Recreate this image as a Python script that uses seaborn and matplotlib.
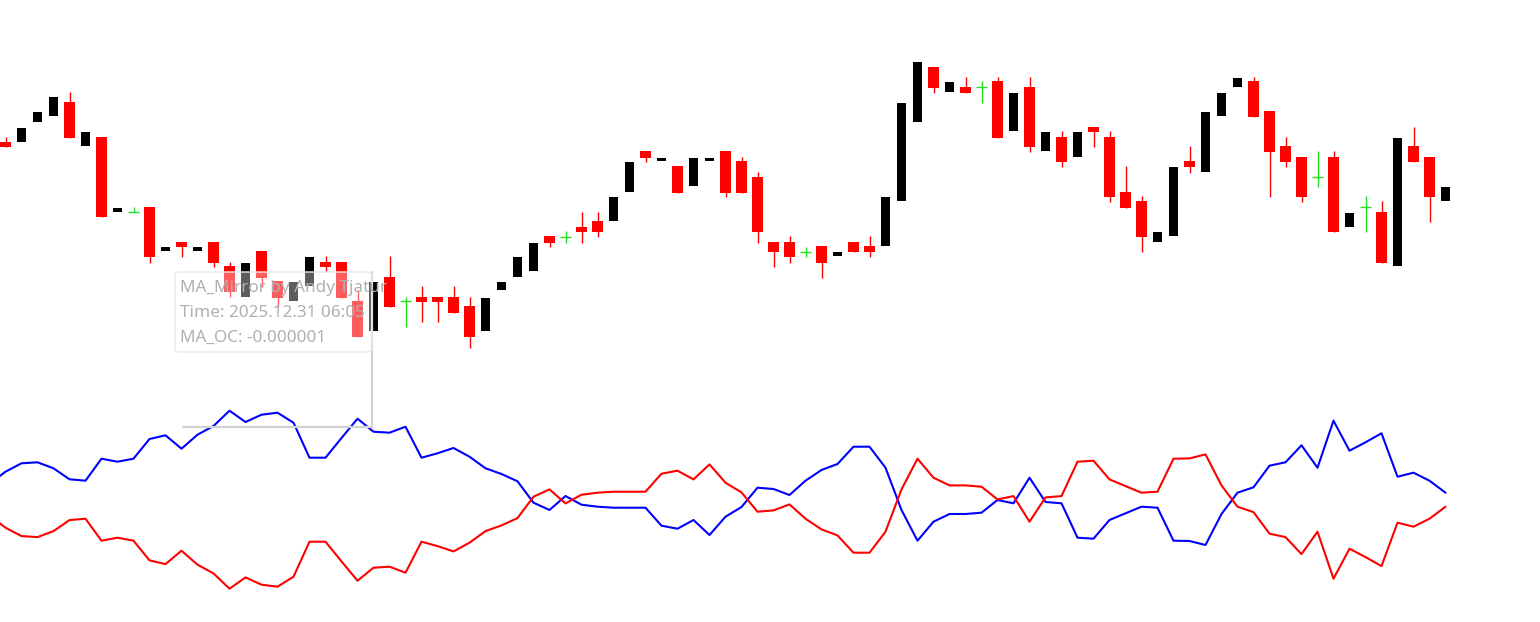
import numpy as np
import pandas as pd
import matplotlib
matplotlib.use("Agg")
import matplotlib.pyplot as plt
import seaborn as sns
from matplotlib.patches import FancyBboxPatch
from matplotlib.lines import Line2D
from matplotlib.transforms import IdentityTransform

# ── data ─────────────────────────────────────────────────────────────────────
# price levels are in screen units, measured downward from the top edge
opens = [142, 142, 122, 116, 102, 146, 137, 212, 212, 207, 251, 242, 251, 242, 266, 297,
         251, 281, 301, 286, 262, 262, 301, 331, 277, 301, 297, 297, 297, 306, 331, 290,
         277, 271, 236, 237, 227, 221, 221, 192, 151, 161, 166, 186, 161, 151, 161, 177,
         242, 242, 252, 246, 256, 242, 246, 246, 201, 122, 67, 92, 87, 87, 81, 131,
         87, 151, 137, 157, 127, 137, 192, 201, 242, 236, 161, 172, 116, 87, 81, 111,
         146, 157, 177, 157, 227, 207, 212, 266, 146, 157, 201]
highs = [137, 128, 112, 97, 92, 132, 137, 208, 207, 207, 247, 242, 247, 242, 262, 263,
         251, 281, 282, 257, 256, 262, 290, 282, 256, 297, 286, 297, 286, 297, 298, 282,
         257, 243, 236, 231, 212, 212, 197, 162, 151, 158, 166, 158, 158, 151, 157, 172,
         242, 236, 247, 246, 252, 242, 236, 197, 103, 62, 67, 82, 77, 81, 77, 93,
         77, 132, 131, 132, 127, 131, 166, 196, 232, 167, 146, 112, 93, 78, 77, 111,
         137, 157, 151, 151, 213, 196, 201, 138, 127, 157, 187]
lows = [147, 142, 122, 116, 138, 146, 217, 212, 212, 263, 251, 257, 251, 267, 297, 297,
        287, 307, 301, 286, 272, 298, 337, 331, 307, 327, 322, 322, 313, 348, 331, 290,
        277, 271, 247, 243, 243, 237, 221, 192, 162, 161, 193, 186, 161, 197, 193, 243,
        267, 263, 257, 278, 256, 252, 257, 246, 201, 122, 93, 92, 93, 103, 138, 131,
        152, 151, 167, 157, 147, 202, 208, 252, 242, 236, 173, 172, 116, 87, 117, 197,
        167, 202, 187, 232, 227, 232, 263, 266, 162, 222, 201]
closes = [147, 128, 112, 97, 138, 132, 217, 208, 212, 257, 247, 247, 247, 263, 292, 263,
          278, 298, 282, 257, 267, 298, 337, 282, 307, 301, 302, 302, 313, 337, 298, 282,
          257, 243, 243, 237, 232, 232, 197, 162, 158, 158, 193, 158, 158, 193, 193, 232,
          252, 257, 252, 263, 252, 252, 252, 197, 103, 62, 88, 82, 93, 87, 138, 93,
          147, 132, 162, 132, 132, 197, 208, 237, 232, 167, 167, 112, 93, 78, 117, 152,
          162, 197, 177, 232, 213, 207, 263, 138, 162, 197, 187]

# MA_OC indicator (mirrored pane), first value belongs to the bar before the first candle
ma_oc = [15.7, 28.0, 36.4, 37.4, 31.4, 20.4, 19.0, 41.0, 38.0, 41.0, 60.7, 64.4, 51.0,
         65.0, 73.7, 89.0, 77.7, 85.0, 87.0, 77.0, 42.0, 42.0, 61.7, 81.0, 68.0, 67.0,
         73.0, 42.0, 46.4, 51.7, 43.0, 31.4, 25.7, 18.4, -3.0, -10.3, 3.7, -5.0, -7.0,
         -8.0, -8.0, -8.0, -26.0, -29.0, -20.3, -35.3, -17.0, -7.3, 12.0, 10.7, 4.7,
         19.0, 29.7, 35.7, 53.0, 53.0, 32.0, -10.3, -41.0, -22.0, -14.3, -14.3, -13.0,
         -0.3, -3.6, 22.0, -2.3, -3.6, -38.0, -39.0, -20.3, -13.6, -7.0, -8.0, -41.0,
         -41.3, -45.3, -14.3, 7.0, 12.4, 34.0, 37.4, 54.4, 32.0, 79.0, 49.0, 57.4, 66.4,
         23.0, 27.0, 19.0, 7.0]

tooltip_lines = ["MA_Mirror by Andy Tjatur", "Time: 2025.12.31 06:05", "MA_OC: -0.000001"]

RED = "#ff0000"
GREEN = "#22e022"
BLUE = "#0000ff"

# ── figure ───────────────────────────────────────────────────────────────────
sns.set_theme(style="white")
plt.rcParams["font.family"] = ["Noto Sans", "DejaVu Sans"]

W, H = 1540, 622
fig = plt.figure(figsize=(W / 100, H / 100), dpi=100)
ax = fig.add_axes([0, 0, 1, 1])
ax2 = fig.add_axes([0, 0, 1, 1], sharex=ax)
ax2.patch.set_alpha(0)

o, h, l, c = (np.asarray(v, dtype=float) for v in (opens, highs, lows, closes))
bars = np.arange(len(o))
up = c < o      # screen axis points down: smaller close = price went up
down = c > o
flat = c == o

ax.vlines(bars[down], h[down], l[down], color=RED, lw=1.0, zorder=2)
ax.bar(bars[down], c[down] - o[down], bottom=o[down], width=0.69,
       color=RED, linewidth=0, zorder=3)
ax.bar(bars[up], o[up] - c[up], bottom=c[up], width=0.56,
       color="black", linewidth=0, zorder=3)
ax.vlines(bars[flat], h[flat], l[flat], color=GREEN, lw=1.0, zorder=3)
ax.hlines(o[flat], bars[flat] - 0.34, bars[flat] + 0.34, color=GREEN, lw=1.0, zorder=3)

ax.set_xlim(-5.5 / 16, (W - 5.5) / 16)
ax.set_ylim(H, 0)
ax.axis("off")

# mirrored MA pane
ma = pd.DataFrame({"bar": np.arange(-1, len(ma_oc) - 1), "ma": ma_oc})
ma["mirror"] = -ma["ma"]
sns.lineplot(data=ma, x="bar", y="ma", ax=ax2, color=BLUE, linewidth=1.5)
sns.lineplot(data=ma, x="bar", y="mirror", ax=ax2, color=RED, linewidth=1.5)
ax2.set_ylim(-(H - 499.7), 499.7)
ax2.axis("off")

# ── tooltip overlay (screen pixels) ──────────────────────────────────────────
px = IdentityTransform()
for xs, ys in (([372, 372], [H - 272, H - 427]), ([183, 372], [H - 427, H - 427])):
    fig.add_artist(Line2D(xs, ys, transform=px, color="#d2d2d2", lw=1.6, zorder=4))

box = FancyBboxPatch((175, H - 352), 197, 80, boxstyle="round,pad=0,rounding_size=4",
                     transform=px, facecolor=(1, 1, 1, 0.37),
                     edgecolor="#e8e8e8", linewidth=1.0, zorder=5)
fig.add_artist(box)
for k, line in enumerate(tooltip_lines):
    t = fig.text(180, H - 288 - 25 * k, line, transform=px, fontsize=12.3,
                 color="#b0b0b0", va="center", ha="left", zorder=6)
    t.set_clip_path(box)

fig.savefig("out.png", dpi=100)
